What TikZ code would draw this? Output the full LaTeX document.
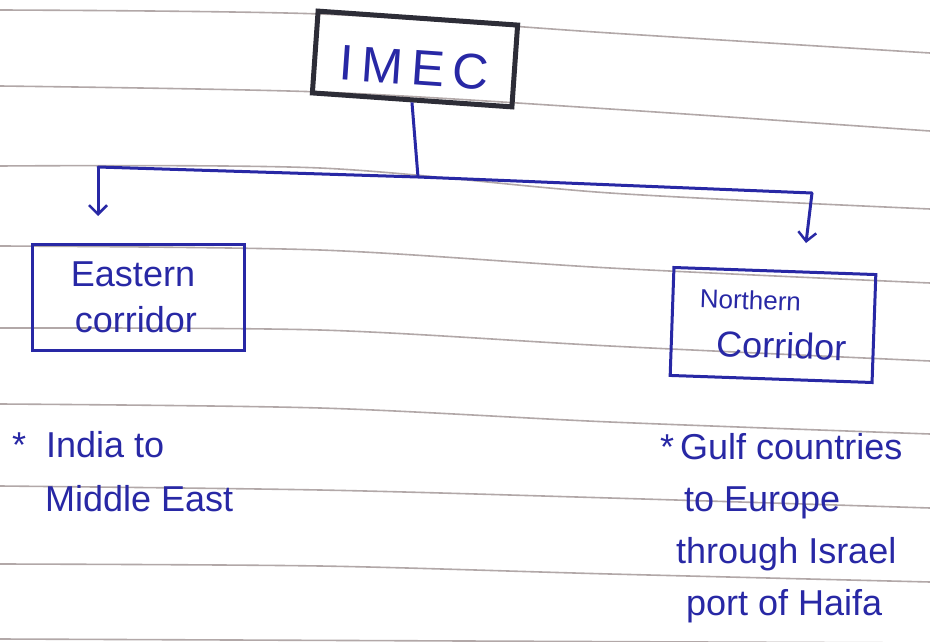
\documentclass[tikz,border=0pt]{standalone}
\usepackage{fontspec}
\setmainfont{Liberation Sans}
\usetikzlibrary{arrows.meta}
\definecolor{ink}{RGB}{40,40,165}
\definecolor{dark}{RGB}{45,45,55}
\definecolor{rulecol}{RGB}{178,168,168}
\begin{document}
\begin{tikzpicture}[x=1pt,y=-1pt,
  ruled/.style={rulecol,line width=1.6pt},
  link/.style={ink,line width=3pt},
  arr/.style={link,-{Straight Barb[length=9pt,width=18pt,line width=2.5pt]}},
  topbox/.style={draw=dark,line width=5pt,minimum width=200pt,minimum height=82pt,text=ink,
    font=\fontsize{50}{56}\selectfont},
  corbox/.style={draw=ink,line width=3pt,text=ink,align=left,inner sep=0pt,
    font=\fontsize{36}{46}\selectfont},
  bullet/.style={text=ink,align=left,anchor=north west,inner sep=0pt,
    font=\fontsize{36}{52}\selectfont}]
\useasboundingbox (0,0) rectangle (930,642);
\fill[white] (0,0) rectangle (930,642);
% ruled paper
\draw[ruled] plot[smooth] coordinates {(0,10) (320,14) (610,33) (930,53)};
\draw[ruled] plot[smooth] coordinates {(0,86) (320,92) (610,109) (930,131)};
\draw[ruled] plot[smooth] coordinates {(0,166) (320,168) (610,193) (930,209)};
\draw[ruled] plot[smooth] coordinates {(0,246) (320,250) (610,268) (930,283)};
\draw[ruled] plot[smooth] coordinates {(0,328) (320,330) (610,346) (930,361)};
\draw[ruled] plot[smooth] coordinates {(0,404) (320,408) (610,422) (930,434)};
\draw[ruled] plot[smooth] coordinates {(0,486) (320,490) (610,498) (930,508)};
\draw[ruled] plot[smooth] coordinates {(0,564) (320,566) (610,574) (930,582)};
\draw[ruled] plot[smooth] coordinates {(0,639) (930,643)};
% boxes
\node[topbox,rotate=-4] (imec) at (415,59) {\raisebox{-9pt}[\height][\depth]{I\,M\,E\,C}};
\node[corbox,minimum width=212pt,minimum height=106pt] (east) at (138,297)
  {Eastern\hspace*{10pt}\\\hspace*{4pt}corridor};
\node[corbox,rotate=-2,minimum width=202pt,minimum height=108pt] (north) at (773,325)
  {{\fontsize{26}{30}\selectfont Northern}\\[2pt]\hspace*{18pt}Corridor};
% connectors
\coordinate (j) at (418,177);
\coordinate (lc) at (98,167);
\coordinate (rc) at (812,193);
\coordinate (la) at (98,216);
\coordinate (ra) at (806,243);
\draw[link] (imec.south) -- (j);
\draw[link,line cap=round] (lc) -- (j) -- (rc);
\draw[arr] (lc) -- (la);
\draw[arr] (rc) -- (ra);
% bullet texts
\node[bullet] (t1) at (12,431) {*\hspace{20pt}India to\\[2pt]\hspace*{33pt}Middle East};
\node[bullet] (t2) at (660,433) {*\hspace{6pt}Gulf countries\\\hspace*{24pt}to Europe\\\hspace*{16pt}through Israel\\\hspace*{26pt}port of Haifa};
\end{tikzpicture}
\end{document}
